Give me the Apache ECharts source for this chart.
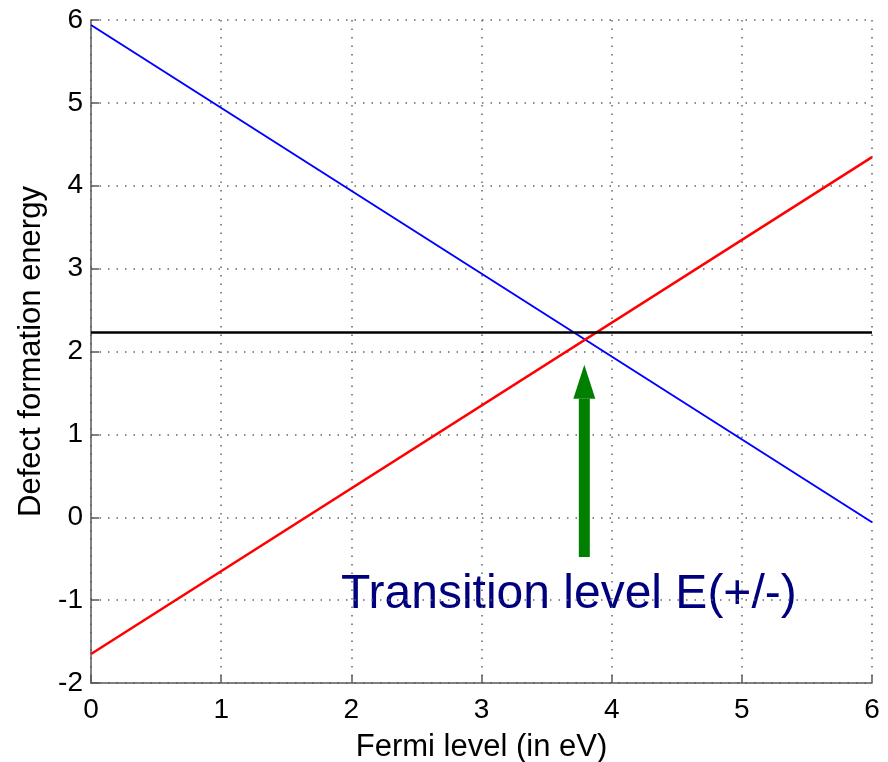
<!DOCTYPE html>
<html>
<head>
<meta charset="utf-8">
<script src="https://cdn.jsdelivr.net/npm/echarts@6/dist/echarts.min.js"></script>
<style>
  html, body { margin: 0; padding: 0; background: #fff; }
  #chart { width: 888px; height: 762px; }
</style>
</head>
<body>
<div id="chart"></div>
<script>
// data
const fermiX = [0, 6]
const positiveE = [5.94, -0.06]   // blue, slope -1
const negativeE = [-1.65, 4.345]  // red, slope +1
const neutralE = [2.23, 2.23]     // black
const arrowX = 3.79
const arrowY = [-0.48, 1.43, 1.84] // tail, head base, tip

const chart = echarts.init(document.getElementById('chart'))

const pairs = ys => fermiX.map((x, i) => [x, ys[i]])

const axisGray = '#5a5a5a'
const gridLine = { show: true, lineStyle: { color: '#666', type: [1.5, 7], width: 1.5 } }

chart.setOption({
  animation: false,
  textStyle: { fontFamily: 'Liberation Sans' },
  grid: { left: 91, right: 16, top: 20, bottom: 79, outerBoundsMode: 'none', containLabel: false },
  xAxis: {
    type: 'value',
    min: 0, max: 6, interval: 1,
    name: 'Fermi level (in eV)',
    nameLocation: 'middle',
    nameGap: 49,
    nameTextStyle: { fontSize: 31, color: '#000' },
    axisLine: { show: true, onZero: false, lineStyle: { color: axisGray, width: 1.5 } },
    axisTick: { show: true, inside: true, length: 8, lineStyle: { color: axisGray, width: 1.5 } },
    axisLabel: { fontSize: 28, color: '#000', margin: 13 },
    splitLine: gridLine
  },
  yAxis: {
    type: 'value',
    min: -2, max: 6, interval: 1,
    name: 'Defect formation energy',
    nameLocation: 'middle',
    nameGap: 43,
    nameTextStyle: { fontSize: 31, color: '#000' },
    axisLine: { show: true, onZero: false, lineStyle: { color: axisGray, width: 1.5 } },
    axisTick: { show: true, inside: true, length: 8, lineStyle: { color: axisGray, width: 1.5 } },
    axisLabel: { fontSize: 28, color: '#000', margin: 8 },
    splitLine: gridLine
  },
  series: [
    {
      type: 'line', data: pairs(positiveE), symbol: 'none',
      lineStyle: { color: '#0000ff', width: 2 }
    },
    {
      type: 'line', data: pairs(negativeE), symbol: 'none',
      lineStyle: { color: '#ff0000', width: 2.5 }
    },
    {
      type: 'line', data: pairs(neutralE), symbol: 'none',
      lineStyle: { color: '#000', width: 2.5 }
    },
    {
      type: 'custom',
      data: [[arrowX, arrowY[0]]],
      renderItem: (params, api) => {
        const tail = api.coord([arrowX, arrowY[0]])
        const base = api.coord([arrowX, arrowY[1]])
        const tip = api.coord([arrowX, arrowY[2]])
        const cx = tail[0]
        return {
          type: 'group',
          children: [
            {
              type: 'rect',
              shape: { x: cx - 5.5, y: base[1], width: 11, height: tail[1] - base[1] },
              style: { fill: '#007f00' }
            },
            {
              type: 'polygon',
              shape: { points: [[cx - 11, base[1]], [cx + 11, base[1]], [tip[0], tip[1]]] },
              style: { fill: '#007f00' }
            }
          ]
        }
      }
    }
  ],
  graphic: [
    {
      type: 'text',
      left: 341, top: 571,
      style: {
        text: 'Transition level E(+/-)',
        fontSize: 48,
        fontFamily: 'Liberation Sans',
        fill: '#00007f'
      }
    }
  ]
})
</script>
</body>
</html>
